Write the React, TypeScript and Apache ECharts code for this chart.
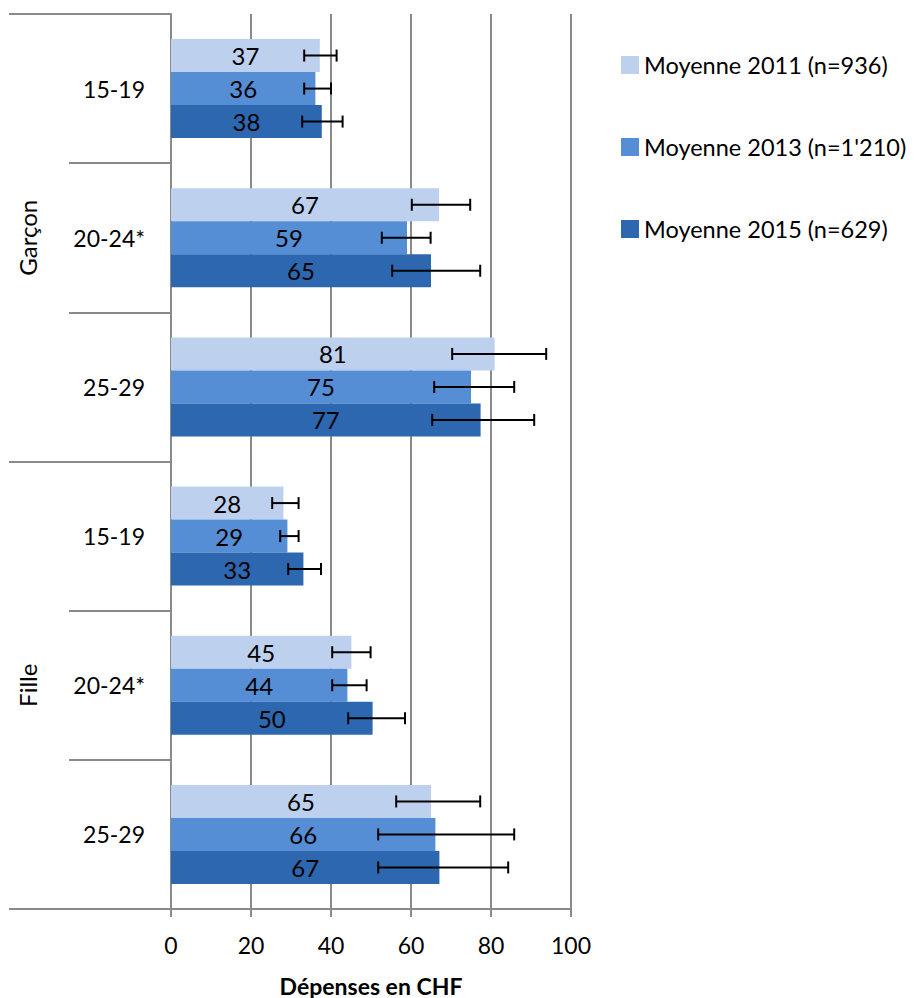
import React, { useEffect, useRef } from "react";
import * as echarts from "echarts";

const sexes = ["Garçon", "Fille"];
const ageGroups = ["15-19", "20-24*", "25-29"];
const categories = ["Garçon|15-19", "Garçon|20-24*", "Garçon|25-29", "Fille|15-19", "Fille|20-24*", "Fille|25-29"];
const seriesNames = ["Moyenne 2011 (n=936)", "Moyenne 2013 (n=1'210)", "Moyenne 2015 (n=629)"];
const xTicks = [0, 20, 40, 60, 80, 100];

const mean2011 = [37.2, 67.0, 80.9, 28.1, 45.1, 65.0];
const mean2013 = [36.1, 59.0, 75.0, 29.1, 44.1, 66.1];
const mean2015 = [37.7, 65.0, 77.4, 33.1, 50.4, 67.1];

const low2011 = [33.3, 60.2, 70.3, 25.3, 40.3, 56.3];
const high2011 = [41.4, 74.8, 93.8, 31.9, 49.9, 77.3];
const low2013 = [33.3, 52.7, 65.8, 27.3, 40.3, 51.8];
const high2013 = [40.0, 64.9, 85.8, 31.9, 48.9, 85.8];
const low2015 = [32.8, 55.3, 65.3, 29.3, 44.3, 51.8];
const high2015 = [42.9, 77.3, 90.8, 37.5, 58.5, 84.3];

const colors = ["#BDD1EE", "#558ED5", "#2D67B0"];

const FONT = "Lato";
const GRAY = "#8a8a8a";
const BAR_W = 33;

export default function App() {
  const ref = useRef<HTMLDivElement>(null);
  useEffect(() => {
    document.body.style.margin = "0";
    const chart = echarts.init(ref.current!, undefined, { renderer: "svg" });
    const means = [mean2011, mean2013, mean2015];
    const lows = [low2011, low2013, low2015];
    const highs = [high2011, high2013, high2015];
    const errData: number[][] = [];
    categories.forEach((_, ci) => {
      for (let k = 0; k < 3; k++) errData.push([ci, k, lows[k][ci], highs[k][ci]]);
    });
    chart.setOption({
      animation: false,
      textStyle: { fontFamily: FONT },
      grid: { left: 171, right: 348, top: 14, bottom: 89, containLabel: false, outerBoundsMode: "none" },
      legend: {
        orient: "vertical",
        left: 616,
        top: 48,
        itemWidth: 18,
        itemHeight: 18,
        itemGap: 58,
        icon: "rect",
        data: seriesNames,
        textStyle: { fontFamily: FONT, fontSize: 23.5, color: "#000" },
      },
      xAxis: {
        type: "value",
        min: 0,
        max: 100,
        interval: 20,
        axisLine: { show: true, lineStyle: { color: GRAY, width: 2 } },
        axisTick: { show: true, length: 8, lineStyle: { color: GRAY, width: 2 } },
        splitLine: { show: true, lineStyle: { color: GRAY, width: 2 } },
        axisLabel: {
          margin: 24,
          fontSize: 23,
          color: "#000",
          fontFamily: FONT,
          formatter: (v: number) => (xTicks.includes(v) ? String(v) : ""),
        },
        name: "Dépenses en CHF",
        nameLocation: "middle",
        nameGap: 65,
        nameTextStyle: { fontFamily: FONT, fontSize: 23, fontWeight: "bold", color: "#000" },
      },
      yAxis: [
        {
          type: "category",
          data: categories,
          inverse: true,
          axisLine: { show: true, lineStyle: { color: GRAY, width: 2 } },
          axisTick: { show: true, length: 102, interval: 0, lineStyle: { color: GRAY, width: 2 } },
          axisLabel: {
            margin: 26,
            fontSize: 23,
            color: "#000",
            fontFamily: FONT,
            formatter: (v: string) => {
              const a = v.split("|")[1];
              return ageGroups.includes(a) ? a : a;
            },
          },
          splitLine: { show: false },
        },
        {
          type: "category",
          data: sexes,
          inverse: true,
          position: "left",
          axisLine: { show: false },
          axisTick: { show: true, length: 162, interval: 0, lineStyle: { color: GRAY, width: 2 } },
          axisLabel: {
            rotate: 90,
            margin: 132,
            fontSize: 24,
            color: "#000",
            fontFamily: FONT,
          },
          splitLine: { show: false },
        },
      ],
      series: [
        ...seriesNames.map((name, k) => ({
          name,
          type: "bar",
          yAxisIndex: 0,
          data: means[k],
          barWidth: BAR_W,
          barGap: "0%",
          itemStyle: { color: colors[k] },
          label: {
            show: true,
            position: "inside",
            color: "#000",
            fontSize: 24,
            fontFamily: FONT,
            formatter: (p: any) => String(Math.round(p.value)),
          },
        })),
        {
          type: "custom",
          name: "err",
          yAxisIndex: 0,
          z: 10,
          encode: { x: [2, 3], y: 0 },
          data: errData,
          renderItem: (params: any, api: any) => {
            const cat = api.value(0);
            const k = api.value(1);
            const p1 = api.coord([api.value(2), cat]);
            const p2 = api.coord([api.value(3), cat]);
            const y = p1[1] + (k - 1) * BAR_W;
            const cap = 6;
            const style = { stroke: "#000", lineWidth: 2 };
            return {
              type: "group",
              children: [
                { type: "line", shape: { x1: p1[0], y1: y, x2: p2[0], y2: y }, style },
                { type: "line", shape: { x1: p1[0], y1: y - cap, x2: p1[0], y2: y + cap }, style },
                { type: "line", shape: { x1: p2[0], y1: y - cap, x2: p2[0], y2: y + cap }, style },
              ],
            };
          },
        },
      ],
    });
    return () => chart.dispose();
  }, []);
  return <div ref={ref} style={{ width: 919, height: 998 }} />;
}
